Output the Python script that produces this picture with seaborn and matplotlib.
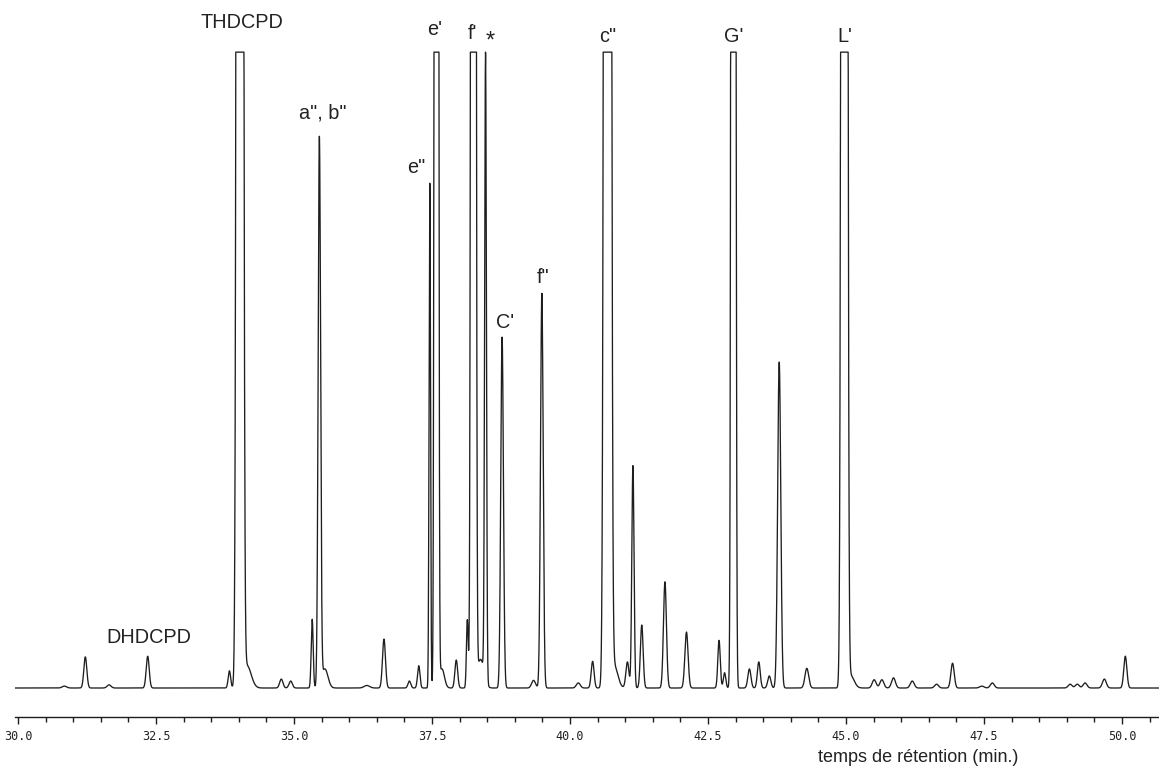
import numpy as np
import pandas as pd
import matplotlib
matplotlib.use("Agg")
import matplotlib.pyplot as plt
from matplotlib.ticker import MultipleLocator, FixedLocator
import seaborn as sns

# Peak table (time in min, height in % of full scale,
# width = gaussian sigma in min). Heights of 1500 stand for off-scale peaks
# that are cut by the recorder at full scale.
peak_times = [30.84, 31.22, 31.65, 32.35, 33.83, 34.02, 34.15, 34.77, 34.94,
              35.33, 35.46, 35.56, 36.32, 36.63, 37.09, 37.26, 37.46, 37.58,
              37.68, 37.94, 38.14, 38.25, 38.38, 38.47, 38.77, 39.34, 39.49,
              40.15, 40.41, 40.68, 40.80, 41.04, 41.14, 41.30, 41.72, 42.11,
              42.70, 42.80, 42.96, 43.25, 43.42, 43.61, 43.79, 44.29, 44.97,
              45.08, 45.51, 45.65, 45.86, 46.20, 46.64, 46.93, 47.46, 47.65,
              49.06, 49.19, 49.33, 49.68, 50.06]
peak_heights = [0.3, 4.9, 0.5, 5.0, 2.7, 1500, 3.5, 1.4, 1.1,
                10.8, 86.2, 3.0, 0.4, 7.7, 1.1, 3.5, 79.4, 1500,
                3.0, 4.4, 10.7, 1500, 4.5, 99.0, 55.2, 1.2, 62.1,
                0.8, 4.2, 1500, 3.5, 4.1, 35.0, 9.9, 16.7, 8.8,
                7.5, 2.4, 1500, 3.0, 4.1, 1.9, 51.3, 3.1, 1500,
                2.0, 1.3, 1.3, 1.6, 1.1, 0.6, 3.9, 0.3, 0.8,
                0.6, 0.6, 0.8, 1.4, 5.0]
peak_widths = [0.04, 0.027, 0.035, 0.027, 0.022, 0.032, 0.075, 0.03, 0.03,
               0.018, 0.022, 0.055, 0.05, 0.027, 0.025, 0.022, 0.013, 0.02,
               0.045, 0.025, 0.016, 0.024, 0.06, 0.016, 0.024, 0.035, 0.024,
               0.035, 0.026, 0.034, 0.065, 0.028, 0.02, 0.025, 0.027, 0.029,
               0.022, 0.022, 0.022, 0.028, 0.026, 0.028, 0.028, 0.034, 0.03,
               0.065, 0.035, 0.035, 0.035, 0.035, 0.035, 0.03, 0.04, 0.035,
               0.035, 0.035, 0.035, 0.035, 0.028]
full_scale = 100.0

# peak annotations: label, time, height
label_texts = ["THDCPD", "a\", b\"", "e'", "e\"", "f'", "*", "C'", "f\"",
               "c\"", "G'", "L'", "DHDCPD"]
label_times = [34.06, 35.53, 37.55, 37.21, 38.24, 38.55, 38.82, 39.51,
               40.69, 42.96, 44.98, 32.37]
label_heights = [104.6, 90.4, 103.5, 81.9, 103.0, 101.6, 57.5, 64.5,
                 102.5, 102.5, 102.5, 8.0]

tick_values = [30.0, 32.5, 35.0, 37.5, 40.0, 42.5, 45.0, 47.5, 50.0]
tick_labels = ["30.0", "32.5", "35.0", "37.5", "40.0", "42.5", "45.0", "47.5", "50.0"]

# build the detector trace from the peak table
t = np.linspace(29.94, 50.68, 9000)
signal = np.zeros_like(t)
for tr, h, w in zip(peak_times, peak_heights, peak_widths):
    signal += h * np.exp(-0.5 * ((t - tr) / w) ** 2)
signal = np.minimum(signal, full_scale)
df = pd.DataFrame({"time": t, "signal": signal})

sns.set_theme(style="white")
plt.rcParams["font.family"] = ["Liberation Sans", "DejaVu Sans"]

fig = plt.figure(figsize=(11.59, 7.67), dpi=100)
ax = fig.add_axes([15 / 1159, 50 / 767, 1 - 15 / 1159, 717 / 767])

sns.lineplot(data=df, x="time", y="signal", ax=ax, color="#1e1e1e",
             linewidth=0.95, estimator=None, sort=False)

ax.set_xlim(29.946, 50.67)
ax.set_ylim(-4.56, 108.2)

for s in ["left", "right", "top"]:
    ax.spines[s].set_visible(False)
ax.spines["bottom"].set_color("#1e1e1e")
ax.spines["bottom"].set_linewidth(1.0)
ax.set_yticks([])
ax.xaxis.set_major_locator(FixedLocator(tick_values))
ax.xaxis.set_minor_locator(MultipleLocator(0.5))
ax.set_xticklabels(tick_labels, family="DejaVu Sans Mono", fontsize=8.5,
                   color="#222222")
ax.tick_params(axis="x", which="major", direction="out", length=5, width=1.0,
               color="#1e1e1e", pad=4, bottom=True)
ax.tick_params(axis="x", which="minor", direction="out", length=3.5, width=1.0,
               color="#1e1e1e", bottom=True)
ax.set_xlabel("")
ax.set_ylabel("")

for txt, x, y in zip(label_texts, label_times, label_heights):
    fs = 17 if txt == "*" else 14.3
    ax.text(x, y, txt, ha="center", va="center", fontsize=fs, color="#222222")

fig.text(918 / 1159, 1 - 758 / 767, "temps de rétention (min.)", ha="center",
         va="center", fontsize=13, color="#222222")

fig.savefig("out.png", dpi=100, facecolor="white")
